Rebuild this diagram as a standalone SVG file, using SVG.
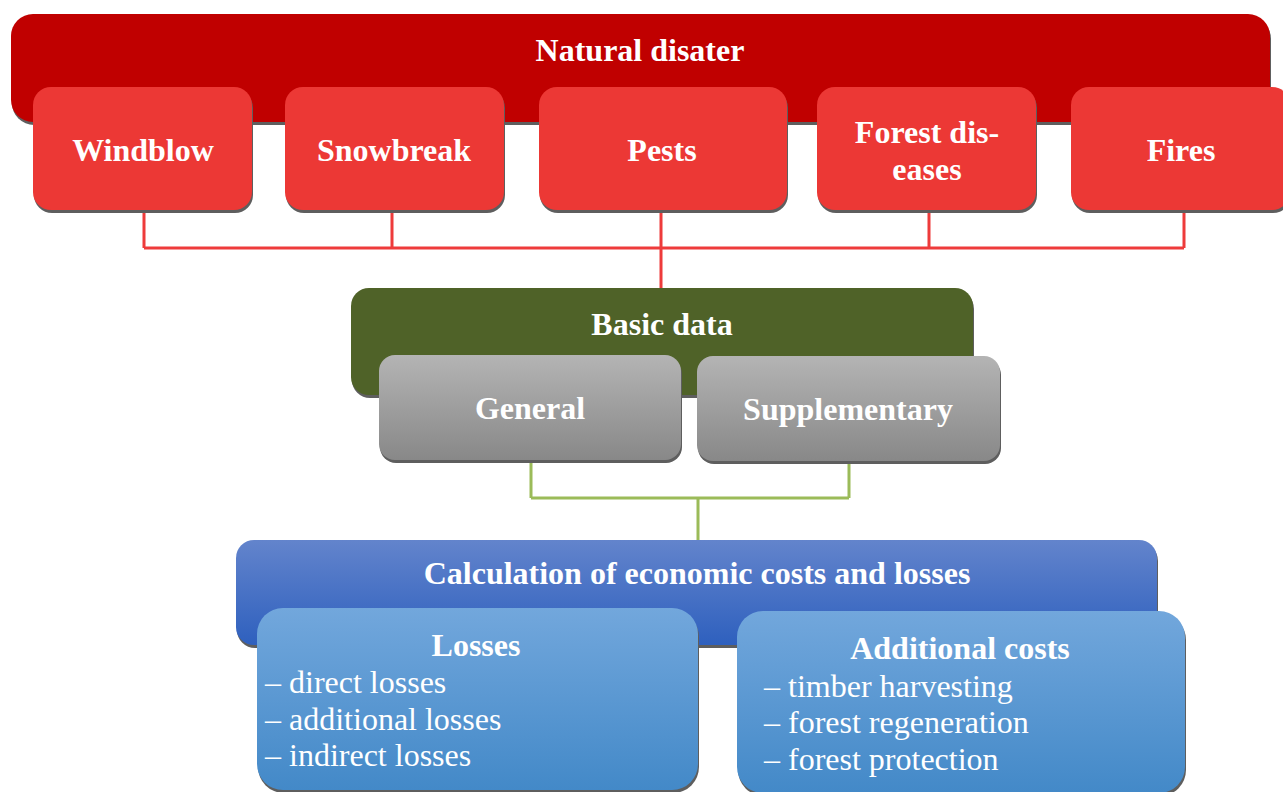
<svg xmlns="http://www.w3.org/2000/svg" width="1283" height="792" viewBox="0 0 1283 792">
<defs>
<linearGradient id="gGray" x1="0" y1="0" x2="0" y2="1"><stop offset="0" stop-color="#b4b4b4"/><stop offset="1" stop-color="#888888"/></linearGradient>
<linearGradient id="gBlue" x1="0" y1="0" x2="0" y2="1"><stop offset="0" stop-color="#6384cc"/><stop offset="1" stop-color="#2e60be"/></linearGradient>
<linearGradient id="gLight" x1="0" y1="0" x2="0" y2="1"><stop offset="0" stop-color="#72a7dc"/><stop offset="1" stop-color="#4389c8"/></linearGradient>
</defs>
<style>
.sh{fill:#5e5e5e}
.b{font-family:"Liberation Serif","Times New Roman",serif;font-weight:bold;font-size:32px;fill:#fff;text-anchor:middle}
.r{font-family:"Liberation Serif","Times New Roman",serif;font-size:32px;fill:#fff}
.red{fill:#ec3835}
.cr{fill:none;stroke:#ee3b3b;stroke-width:3}
.cg{fill:none;stroke:#9bbb59;stroke-width:3}
</style>
<rect width="1283" height="792" fill="#fff"/>
<g id="connectors">
<path class="cr" d="M144 210V248M392 210V248M929 210V248M1184 210V248M144 248H1184M661 210V289"/>
<path class="cg" d="M531 460V498M849 460V498M531 498H849M698 498V541"/>
</g>
<g id="natural">
<rect class="sh" x="12" y="17" width="1259" height="108" rx="22"/>
<rect x="11" y="14" width="1259" height="108" rx="22" fill="#c00000"/>
<text class="b" x="640" y="61">Natural disater</text>
</g>
<g id="windblow">
<rect class="sh" x="34" y="90" width="219" height="123" rx="18"/>
<rect class="red" x="33" y="87" width="219" height="123" rx="18"/>
<text class="b" x="143" y="161">Windblow</text>
</g>
<g id="snowbreak">
<rect class="sh" x="286" y="90" width="219" height="123" rx="18"/>
<rect class="red" x="285" y="87" width="219" height="123" rx="18"/>
<text class="b" x="394" y="161">Snowbreak</text>
</g>
<g id="pests">
<rect class="sh" x="540" y="90" width="248" height="123" rx="18"/>
<rect class="red" x="539" y="87" width="248" height="123" rx="18"/>
<text class="b" x="662" y="161">Pests</text>
</g>
<g id="diseases">
<rect class="sh" x="818" y="90" width="219" height="123" rx="18"/>
<rect class="red" x="817" y="87" width="219" height="123" rx="18"/>
<text class="b" x="927" y="143">Forest dis-</text>
<text class="b" x="927" y="180">eases</text>
</g>
<g id="fires">
<rect class="sh" x="1072" y="90" width="219" height="123" rx="18"/>
<rect class="red" x="1071" y="87" width="219" height="123" rx="18"/>
<text class="b" x="1181" y="161">Fires</text>
</g>
<g id="basic">
<rect class="sh" x="352" y="291" width="622" height="107" rx="18"/>
<rect x="351" y="288" width="622" height="107" rx="18" fill="#4f6228"/>
<text class="b" x="662" y="335">Basic data</text>
</g>
<g id="general">
<rect class="sh" x="380" y="358" width="302" height="105" rx="16"/>
<rect x="379" y="355" width="302" height="105" rx="16" fill="url(#gGray)"/>
<text class="b" x="530" y="419">General</text>
</g>
<g id="supplementary">
<rect class="sh" x="698" y="359" width="303" height="105" rx="16"/>
<rect x="697" y="356" width="303" height="105" rx="16" fill="url(#gGray)"/>
<text class="b" x="848" y="420">Supplementary</text>
</g>
<g id="calculation">
<rect class="sh" x="237" y="543" width="921" height="105" rx="18"/>
<rect x="236" y="540" width="921" height="105" rx="18" fill="url(#gBlue)"/>
<text class="b" x="697" y="584">Calculation of economic costs and losses</text>
</g>
<g id="losses">
<rect class="sh" x="258" y="611" width="441" height="182" rx="26"/>
<rect x="257" y="608" width="441" height="182" rx="26" fill="url(#gLight)"/>
<text class="b" x="476" y="656">Losses</text>
<text class="r" x="265" y="693">– direct losses</text>
<text class="r" x="265" y="730">– additional losses</text>
<text class="r" x="265" y="766">– indirect losses</text>
</g>
<g id="additional">
<rect class="sh" x="738" y="614" width="448" height="182" rx="26"/>
<rect x="737" y="611" width="448" height="182" rx="26" fill="url(#gLight)"/>
<text class="b" x="960" y="659">Additional costs</text>
<text class="r" x="764" y="697">– timber harvesting</text>
<text class="r" x="764" y="733">– forest regeneration</text>
<text class="r" x="764" y="770">– forest protection</text>
</g>
</svg>
